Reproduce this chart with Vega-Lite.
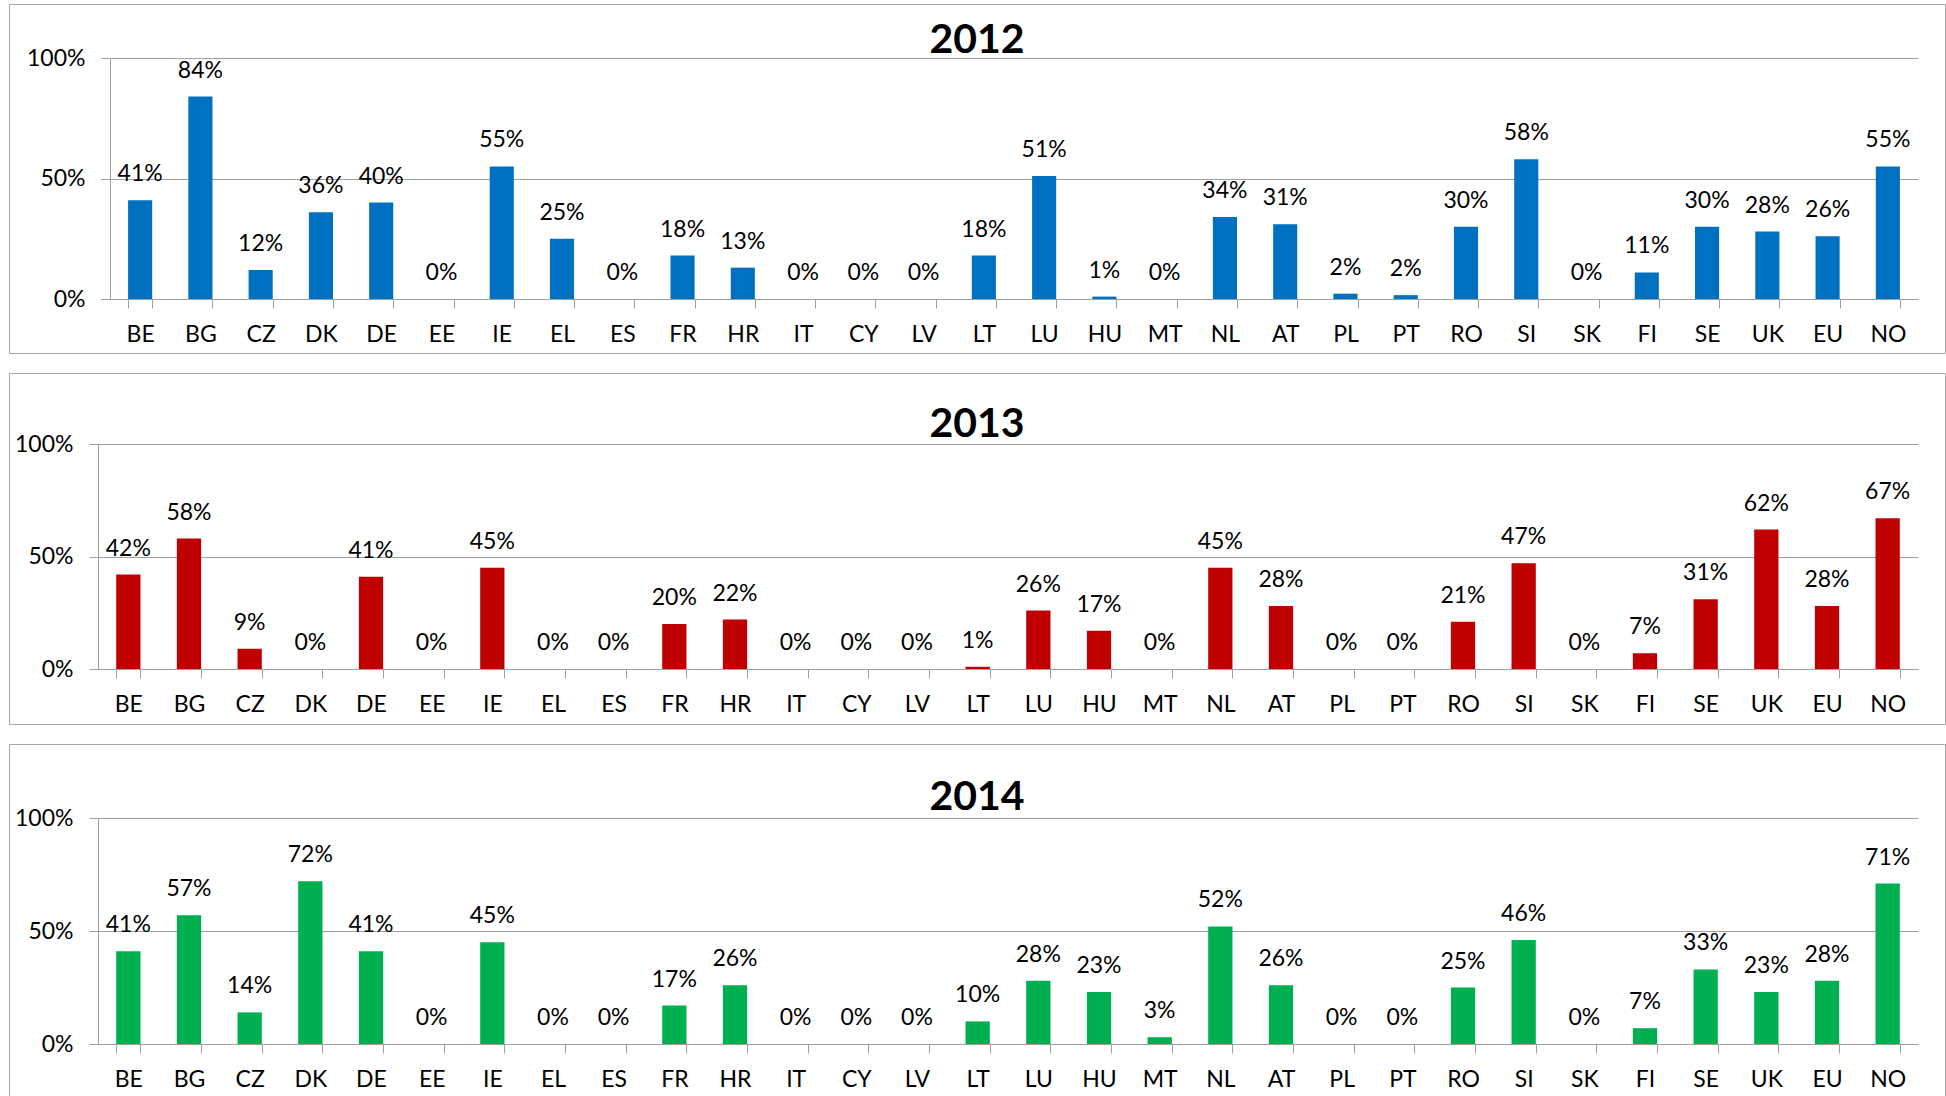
{
  "$schema": "https://vega.github.io/schema/vega-lite/v6.json",
  "padding": {"left": 8, "top": 3, "right": 0, "bottom": 0},
  "spacing": 18,
  "data": {"values": [
    {"year": 2012, "country": "BE", "value": 0.41},
    {"year": 2012, "country": "BG", "value": 0.84},
    {"year": 2012, "country": "CZ", "value": 0.12},
    {"year": 2012, "country": "DK", "value": 0.36},
    {"year": 2012, "country": "DE", "value": 0.40},
    {"year": 2012, "country": "EE", "value": 0},
    {"year": 2012, "country": "IE", "value": 0.55},
    {"year": 2012, "country": "EL", "value": 0.25},
    {"year": 2012, "country": "ES", "value": 0},
    {"year": 2012, "country": "FR", "value": 0.18},
    {"year": 2012, "country": "HR", "value": 0.13},
    {"year": 2012, "country": "IT", "value": 0},
    {"year": 2012, "country": "CY", "value": 0},
    {"year": 2012, "country": "LV", "value": 0},
    {"year": 2012, "country": "LT", "value": 0.18},
    {"year": 2012, "country": "LU", "value": 0.51},
    {"year": 2012, "country": "HU", "value": 0.01},
    {"year": 2012, "country": "MT", "value": 0},
    {"year": 2012, "country": "NL", "value": 0.34},
    {"year": 2012, "country": "AT", "value": 0.31},
    {"year": 2012, "country": "PL", "value": 0.022},
    {"year": 2012, "country": "PT", "value": 0.016},
    {"year": 2012, "country": "RO", "value": 0.30},
    {"year": 2012, "country": "SI", "value": 0.58},
    {"year": 2012, "country": "SK", "value": 0},
    {"year": 2012, "country": "FI", "value": 0.11},
    {"year": 2012, "country": "SE", "value": 0.30},
    {"year": 2012, "country": "UK", "value": 0.28},
    {"year": 2012, "country": "EU", "value": 0.26},
    {"year": 2012, "country": "NO", "value": 0.55},
    {"year": 2013, "country": "BE", "value": 0.42},
    {"year": 2013, "country": "BG", "value": 0.58},
    {"year": 2013, "country": "CZ", "value": 0.09},
    {"year": 2013, "country": "DK", "value": 0},
    {"year": 2013, "country": "DE", "value": 0.41},
    {"year": 2013, "country": "EE", "value": 0},
    {"year": 2013, "country": "IE", "value": 0.45},
    {"year": 2013, "country": "EL", "value": 0},
    {"year": 2013, "country": "ES", "value": 0},
    {"year": 2013, "country": "FR", "value": 0.20},
    {"year": 2013, "country": "HR", "value": 0.22},
    {"year": 2013, "country": "IT", "value": 0},
    {"year": 2013, "country": "CY", "value": 0},
    {"year": 2013, "country": "LV", "value": 0},
    {"year": 2013, "country": "LT", "value": 0.01},
    {"year": 2013, "country": "LU", "value": 0.26},
    {"year": 2013, "country": "HU", "value": 0.17},
    {"year": 2013, "country": "MT", "value": 0},
    {"year": 2013, "country": "NL", "value": 0.45},
    {"year": 2013, "country": "AT", "value": 0.28},
    {"year": 2013, "country": "PL", "value": 0},
    {"year": 2013, "country": "PT", "value": 0},
    {"year": 2013, "country": "RO", "value": 0.21},
    {"year": 2013, "country": "SI", "value": 0.47},
    {"year": 2013, "country": "SK", "value": 0},
    {"year": 2013, "country": "FI", "value": 0.07},
    {"year": 2013, "country": "SE", "value": 0.31},
    {"year": 2013, "country": "UK", "value": 0.62},
    {"year": 2013, "country": "EU", "value": 0.28},
    {"year": 2013, "country": "NO", "value": 0.67},
    {"year": 2014, "country": "BE", "value": 0.41},
    {"year": 2014, "country": "BG", "value": 0.57},
    {"year": 2014, "country": "CZ", "value": 0.14},
    {"year": 2014, "country": "DK", "value": 0.72},
    {"year": 2014, "country": "DE", "value": 0.41},
    {"year": 2014, "country": "EE", "value": 0},
    {"year": 2014, "country": "IE", "value": 0.45},
    {"year": 2014, "country": "EL", "value": 0},
    {"year": 2014, "country": "ES", "value": 0},
    {"year": 2014, "country": "FR", "value": 0.17},
    {"year": 2014, "country": "HR", "value": 0.26},
    {"year": 2014, "country": "IT", "value": 0},
    {"year": 2014, "country": "CY", "value": 0},
    {"year": 2014, "country": "LV", "value": 0},
    {"year": 2014, "country": "LT", "value": 0.10},
    {"year": 2014, "country": "LU", "value": 0.28},
    {"year": 2014, "country": "HU", "value": 0.23},
    {"year": 2014, "country": "MT", "value": 0.03},
    {"year": 2014, "country": "NL", "value": 0.52},
    {"year": 2014, "country": "AT", "value": 0.26},
    {"year": 2014, "country": "PL", "value": 0},
    {"year": 2014, "country": "PT", "value": 0},
    {"year": 2014, "country": "RO", "value": 0.25},
    {"year": 2014, "country": "SI", "value": 0.46},
    {"year": 2014, "country": "SK", "value": 0},
    {"year": 2014, "country": "FI", "value": 0.07},
    {"year": 2014, "country": "SE", "value": 0.33},
    {"year": 2014, "country": "UK", "value": 0.23},
    {"year": 2014, "country": "EU", "value": 0.28},
    {"year": 2014, "country": "NO", "value": 0.71}
  ]},
  "vconcat": [
    {
      "width": 1936,
      "height": 349,
      "title": {"text": "2012", "offset": -58},
      "transform": [{"filter": "datum.year === 2012"}],
      "encoding": {
        "x": {"field": "country", "type": "nominal", "sort": null,
              "scale": {"range": [101, 1909], "paddingInner": 0.6, "paddingOuter": 0.3},
              "axis": {"offset": -54, "title": null}},
        "y": {"field": "value", "type": "quantitative",
              "scale": {"domain": [0, 1], "range": [295, 54], "nice": false, "zero": true},
              "axis": {"offset": -101, "values": [0, 0.5, 1], "format": ".0%", "title": null}}
      },
      "layer": [
        {"mark": {"type": "bar", "color": "#0070C0"}},
        {"mark": {"type": "text", "baseline": "alphabetic", "dy": -19},
         "encoding": {"text": {"field": "value", "type": "quantitative", "format": ".0%"}}}
      ]
    },
    {
      "width": 1936,
      "height": 351,
      "title": {"text": "2013", "offset": -73},
      "transform": [{"filter": "datum.year === 2013"}],
      "encoding": {
        "x": {"field": "country", "type": "nominal", "sort": null,
              "scale": {"range": [89, 1909], "paddingInner": 0.6, "paddingOuter": 0.3},
              "axis": {"offset": -55, "title": null}},
        "y": {"field": "value", "type": "quantitative",
              "scale": {"domain": [0, 1], "range": [296, 71], "nice": false, "zero": true},
              "axis": {"offset": -89, "values": [0, 0.5, 1], "format": ".0%", "title": null}}
      },
      "layer": [
        {"mark": {"type": "bar", "color": "#C00000"}},
        {"mark": {"type": "text", "baseline": "alphabetic", "dy": -19},
         "encoding": {"text": {"field": "value", "type": "quantitative", "format": ".0%"}}}
      ]
    },
    {
      "width": 1936,
      "height": 362,
      "title": {"text": "2014", "offset": -75},
      "transform": [{"filter": "datum.year === 2014"}],
      "encoding": {
        "x": {"field": "country", "type": "nominal", "sort": null,
              "scale": {"range": [89, 1909], "paddingInner": 0.6, "paddingOuter": 0.3},
              "axis": {"offset": -62, "title": null}},
        "y": {"field": "value", "type": "quantitative",
              "scale": {"domain": [0, 1], "range": [300, 74], "nice": false, "zero": true},
              "axis": {"offset": -89, "values": [0, 0.5, 1], "format": ".0%", "title": null}}
      },
      "layer": [
        {"mark": {"type": "bar", "color": "#00B050"}},
        {"mark": {"type": "text", "baseline": "alphabetic", "dy": -19},
         "encoding": {"text": {"field": "value", "type": "quantitative", "format": ".0%"}}}
      ]
    }
  ],
  "config": {
    "font": "Lato",
    "view": {"stroke": "#A6A6A6", "strokeWidth": 1},
    "axis": {
      "domainColor": "#A0A0A0", "tickColor": "#A0A0A0", "gridColor": "#A0A0A0",
      "labelFont": "Lato", "labelFontSize": 23, "labelColor": "#000000",
      "tickSize": 9, "labelPadding": 16, "domainWidth": 1, "tickWidth": 1
    },
    "axisX": {"grid": false, "tickBand": "extent", "labelAngle": 0, "labelPadding": 15},
    "axisY": {"grid": true, "gridWidth": 1},
    "title": {"font": "Lato", "fontSize": 41, "fontWeight": "bold", "color": "#000000", "anchor": "middle"},
    "text": {"font": "Lato", "fontSize": 23, "color": "#000000"}
  }
}
